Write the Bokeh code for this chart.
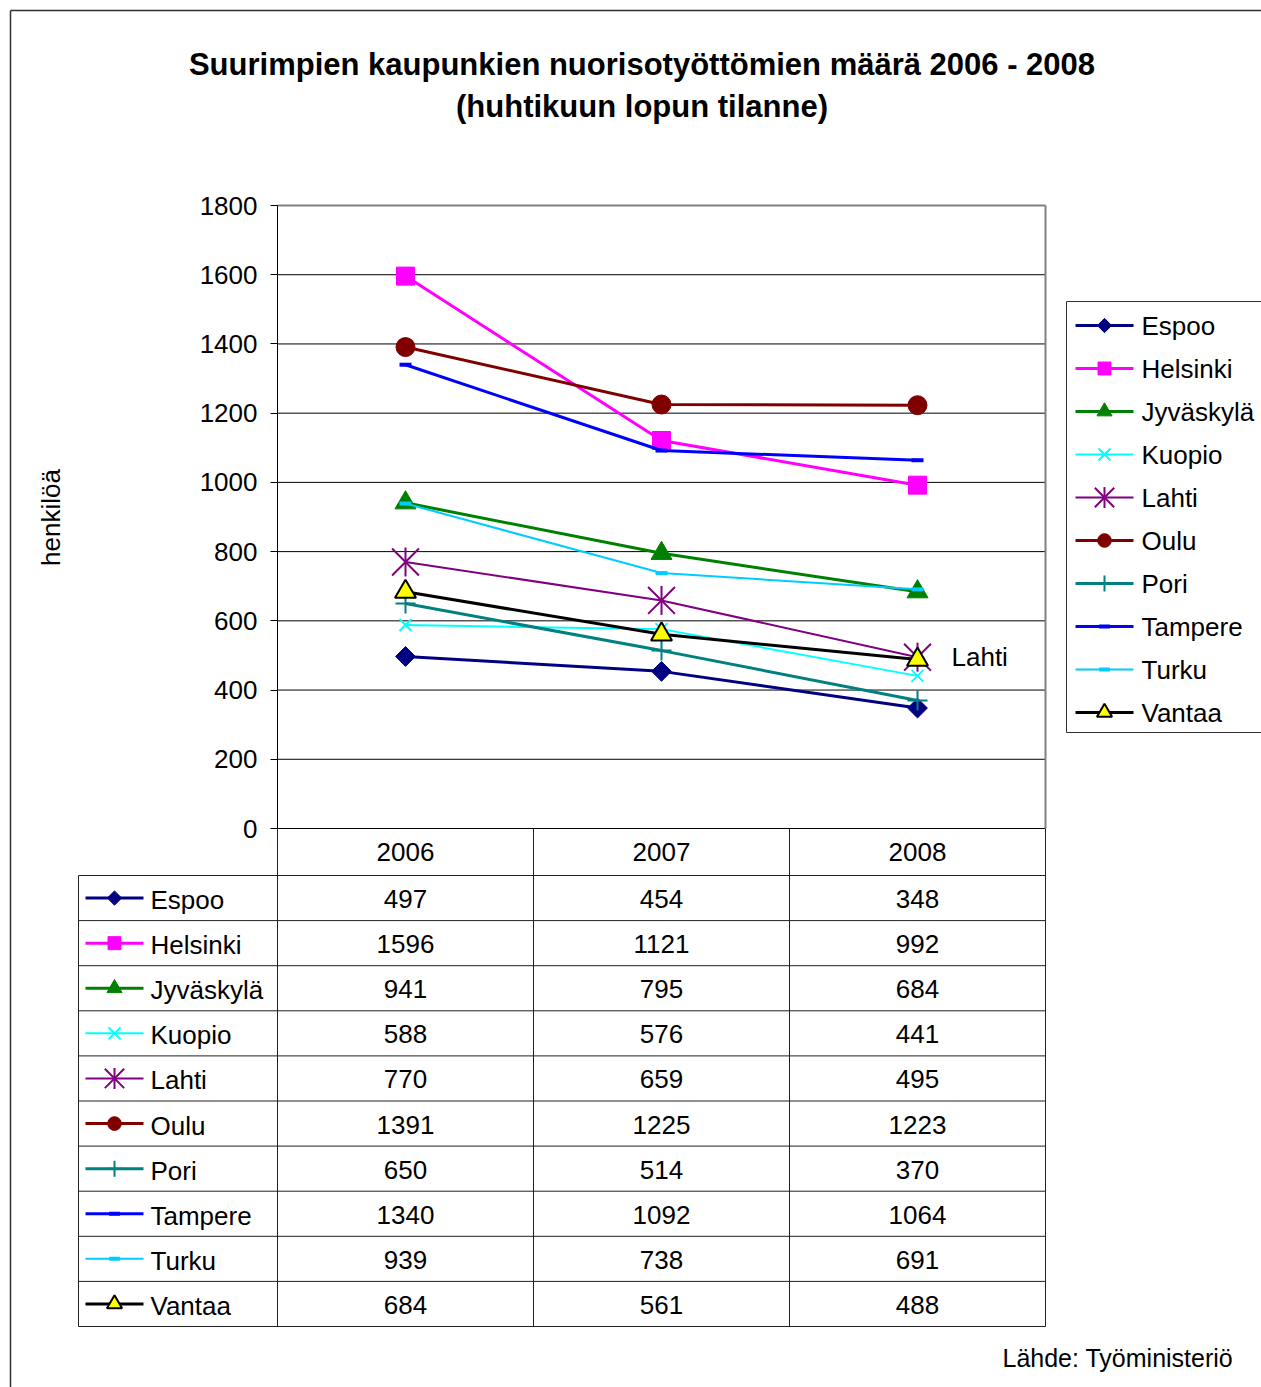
import math
from bokeh.plotting import figure
from bokeh.models import Range1d, LinearAxis, FixedTicker
from bokeh.core.properties import value
from bokeh.embed import file_html
from bokeh.resources import INLINE

# ---------------- data ----------------
years = [2006, 2007, 2008]
cities = ["Espoo", "Helsinki", "Jyväskylä", "Kuopio", "Lahti",
          "Oulu", "Pori", "Tampere", "Turku", "Vantaa"]
espoo = [497, 454, 348]
helsinki = [1596, 1121, 992]
jyvaskyla = [941, 795, 684]
kuopio = [588, 576, 441]
lahti = [770, 659, 495]
oulu = [1391, 1225, 1223]
pori = [650, 514, 370]
tampere = [1340, 1092, 1064]
turku = [939, 738, 691]
vantaa = [684, 561, 488]
series = [espoo, helsinki, jyvaskyla, kuopio, lahti, oulu, pori, tampere, turku, vantaa]
y_ticks = [0, 200, 400, 600, 800, 1000, 1200, 1400, 1600, 1800]
title_lines = ["Suurimpien kaupunkien nuorisotyöttömien määrä 2006 - 2008",
               "(huhtikuun lopun tilanne)"]
y_title = "henkilöä"
source_text = "Lähde: Työministeriö"
point_label = "Lahti"

# ---------------- styles ----------------
FONT = value("Liberation Sans")
FS = "26px"
COLORS = ["#000080", "#FF00FF", "#008000", "#00FFFF", "#800080",
          "#800000", "#008080", "#0000FF", "#00CCFF", "#000000"]
LINE_W = [3, 3, 3, 2, 2, 3, 3, 3, 2, 3]
MARKERS = [
    [dict(marker="square", size=14, angle=math.pi / 4, fill_color="#000080", line_color="#000080", line_width=1)],
    [dict(marker="square", size=18, fill_color="#FF00FF", line_color="#FF00FF", line_width=1)],
    [dict(marker="triangle", size=21, fill_color="#008000", line_color="#008000", line_width=1)],
    [dict(marker="x", size=17, line_color="#00FFFF", line_width=2)],
    [dict(marker="x", size=38, line_color="#800080", line_width=2),
     dict(marker="dash", size=29, angle=math.pi / 2, line_color="#800080", line_width=2)],
    [dict(marker="circle", size=19, fill_color="#800000", line_color="#800000", line_width=1)],
    [dict(marker="cross", size=20, line_color="#008080", line_width=2)],
    [dict(marker="dash", size=12, line_color="#0000FF", line_width=4)],
    [dict(marker="dash", size=12, line_color="#00CCFF", line_width=4)],
    [dict(marker="triangle", size=21, fill_color="#FFFF00", line_color="#000000", line_width=2)],
]
KEY_SCALE = [0.72, 0.72, 0.72, 1.0, 0.72, 0.72, 0.8, 0.9, 0.9, 0.72]

# ---------------- layout (pixels) ----------------
W, H = 1261, 1387
PL, PR, PT, PB = 277, 1045, 205, 828          # plot area
CAT_W = (PR - PL) / len(years)
C0 = PL + CAT_W / 2                            # centre of first category
TL = 78                                         # table left
ROW0 = 875                                      # first row top
ROW_H = 45.1
LEG_L, LEG_T, LEG_B = 1066, 301, 732
LEG_Y0, LEG_DY = 325, 43
BORDER = 10

p = figure(width=W, height=H, x_range=Range1d(0, W), y_range=Range1d(H, 0),
           output_backend="svg", toolbar_location=None, min_border=0,
           min_border_left=0, min_border_right=0, min_border_top=0, min_border_bottom=0,
           x_axis_type=None, y_axis_type=None, outline_line_color=None,
           background_fill_color="white", border_fill_color="white")

sc = (PB - PT) / y_ticks[-1]
p.extra_y_ranges = {"val": Range1d((PB - H) / sc, PB / sc)}
p.extra_x_ranges = {"yr": Range1d(years[0] - C0 / CAT_W, years[0] + (W - C0) / CAT_W)}

# page border
p.segment(x0=[BORDER, BORDER], y0=[BORDER, BORDER], x1=[BORDER, W], y1=[H, BORDER],
          line_color="#303030", line_width=1.5)

# title
p.text(x=[641.5, 641.5], y=[64, 106], text=title_lines, text_font=FONT,
       text_font_size="31px", text_font_style="bold", text_align="center",
       text_baseline="middle", text_color="black")

# y title
p.text(x=[50], y=[517], text=[y_title], angle=math.pi / 2, text_font=FONT, text_font_size=FS,
       text_align="center", text_baseline="middle", text_color="black")

# gridlines
p.segment(x0=PL, x1=PR, y0=y_ticks[:-1], y1=y_ticks[:-1], y_range_name="val",
          line_color="black", line_width=1)
# plot area border top/right
p.segment(x0=[PL, PR], y0=[PT, PT], x1=[PR, PR], y1=[PT, PB], line_color="#808080", line_width=2)

# y axis
yaxis = LinearAxis(y_range_name="val", fixed_location=PL, bounds=(y_ticks[0], y_ticks[-1]),
                   ticker=FixedTicker(ticks=y_ticks, minor_ticks=[]))
yaxis.major_tick_out = 7
yaxis.major_tick_in = 0
yaxis.minor_tick_out = 0
yaxis.minor_tick_in = 0
yaxis.axis_line_color = "black"
yaxis.major_tick_line_color = "black"
yaxis.major_label_text_font = "Liberation Sans"
yaxis.major_label_text_font_size = FS
yaxis.major_label_text_color = "black"
yaxis.major_label_standoff = 13
p.add_layout(yaxis, "left")

# x axis (category labels in the table header)
xaxis = LinearAxis(x_range_name="yr", fixed_location=PB,
                   ticker=FixedTicker(ticks=years, minor_ticks=[]))
xaxis.major_tick_out = 0
xaxis.major_tick_in = 0
xaxis.minor_tick_out = 0
xaxis.minor_tick_in = 0
xaxis.axis_line_color = None
xaxis.major_label_text_font = "Liberation Sans"
xaxis.major_label_text_font_size = FS
xaxis.major_label_text_color = "black"
xaxis.major_label_standoff = 14
p.add_layout(xaxis, "below")

# table grid
n = len(cities)
row_lines = [ROW0 + ROW_H * k for k in range(n + 1)]
p.segment(x0=TL, x1=PR, y0=row_lines, y1=row_lines, line_color="#202020", line_width=1)
vx = [PL + CAT_W * k for k in range(len(years) + 1)]
p.segment(x0=vx, x1=vx, y0=PB, y1=row_lines[-1], line_color="#202020", line_width=1)
p.segment(x0=[TL], x1=[TL], y0=[row_lines[0]], y1=[row_lines[-1]], line_color="#202020", line_width=1)


def draw_key(xc, yc, i):
    p.segment(x0=[xc - 29], x1=[xc + 29], y0=[yc], y1=[yc], line_color=COLORS[i], line_width=LINE_W[i])
    for m in MARKERS[i]:
        kw = dict(m)
        kw["size"] = kw["size"] * KEY_SCALE[i]
        p.scatter(x=[xc], y=[yc], **kw)


# series
for i, s in enumerate(series):
    p.line(x=years, y=s, x_range_name="yr", y_range_name="val",
           line_color=COLORS[i], line_width=LINE_W[i])
    for m in MARKERS[i]:
        p.scatter(x=years, y=s, x_range_name="yr", y_range_name="val", **m)

# data label
p.text(x=[years[-1]], y=[lahti[-1]], text=[point_label], x_range_name="yr", y_range_name="val",
       x_offset=34, text_font=FONT, text_font_size=FS, text_align="left",
       text_baseline="middle", text_color="black")

# table rows
for i, (city, s) in enumerate(zip(cities, series)):
    yc = ROW0 + ROW_H * (i + 0.5)
    draw_key(TL + 36, yc, i)
    p.text(x=[TL + 72], y=[yc + 2], text=[city], text_font=FONT, text_font_size=FS,
           text_align="left", text_baseline="middle", text_color="black")
    p.text(x=years, y=[yc + 1] * len(years), text=[str(v) for v in s], x_range_name="yr",
           text_font=FONT, text_font_size=FS, text_align="center", text_baseline="middle",
           text_color="black")

# right legend
p.segment(x0=[LEG_L, LEG_L, LEG_L], y0=[LEG_T, LEG_T, LEG_B], x1=[W, LEG_L, W], y1=[LEG_T, LEG_B, LEG_B],
          line_color="#303030", line_width=1)
for i, city in enumerate(cities):
    yc = LEG_Y0 + LEG_DY * i
    draw_key(LEG_L + 38, yc, i)
    p.text(x=[LEG_L + 75], y=[yc], text=[city], text_font=FONT, text_font_size=FS,
           text_align="left", text_baseline="middle", text_color="black")

# source
p.text(x=[1002], y=[1357], text=[source_text], text_font=FONT, text_font_size="25px",
       text_align="left", text_baseline="middle", text_color="black")

open("out.html", "w").write(file_html(p, INLINE))
